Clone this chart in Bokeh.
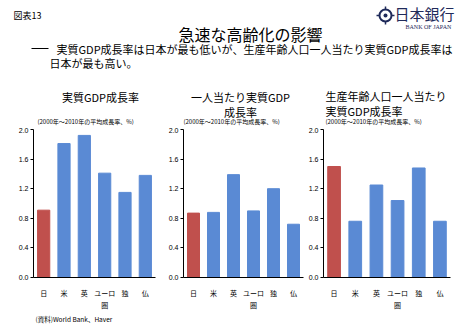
from bokeh.plotting import figure
from bokeh.models import ColumnDataSource, Range1d, FactorRange, FixedTicker, NumeralTickFormatter
from bokeh.layouts import column, row
from bokeh.embed import file_html
from bokeh.resources import INLINE
from bokeh.core.properties import value

# ---- data ----
countries = ["日", "米", "英", "ユーロ\n圏", "独", "仏"]
real_gdp = [0.91, 1.81, 1.92, 1.41, 1.15, 1.38]
real_gdp_per_capita = [0.87, 0.88, 1.39, 0.90, 1.20, 0.72]
real_gdp_per_working_age = [1.50, 0.76, 1.25, 1.04, 1.48, 0.76]
bar_colors = ["#C0504D", "#5A8AD4", "#5A8AD4", "#5A8AD4", "#5A8AD4", "#5A8AD4"]
y_ticks = [0.0, 0.4, 0.8, 1.2, 1.6, 2.0]

JP = value("Noto Sans CJK JP")
SANS = "Liberation Sans"

# ---- header (titles) ----
W = 468
HH = 127
hdr = figure(width=W, height=HH, x_range=Range1d(0, W), y_range=Range1d(HH, 0),
             output_backend="svg", toolbar_location=None, min_border=0)
hdr.axis.visible = False
hdr.grid.visible = False
hdr.outline_line_color = None

def t(fig, x, y, s, size, align="left", font=JP, style="normal", color="#000000"):
    fig.text(x=[x], y=[y], text=[s], text_font=font, text_font_size=f"{size}px",
             text_align=align, text_baseline="middle", text_color=color, text_font_style=style)

t(hdr, 13, 15, "図表13", 9)
t(hdr, 250, 33, "急速な高齢化の影響", 16, align="center")
hdr.segment(x0=[31], y0=[48], x1=[48], y1=[48], line_color="#000000", line_width=1)
t(hdr, 56, 48, "実質GDP成長率は日本が最も低いが、生産年齢人口一人当たり実質GDP成長率は", 11)
t(hdr, 49, 62, "日本が最も高い。", 11)

# logo
hdr.scatter(x=[385], y=[15], size=12, fill_color=None, line_color="#1F2A5A", line_width=2)
hdr.scatter(x=[385], y=[15], size=4, fill_color="#1F2A5A", line_color=None)
hdr.segment(x0=[385, 385, 376, 391], y0=[6, 21, 15, 15], x1=[385, 385, 379, 394], y1=[9, 24, 15, 15],
            line_color="#1F2A5A", line_width=1.5)
t(hdr, 394, 13, "日本銀行", 15, font=JP, color="#1F2A5A")
t(hdr, 405, 26, "BANK OF JAPAN", 6, font=value("Liberation Serif"), color="#1F2A5A")

# panel titles
t(hdr, 100, 96, "実質GDP成長率", 11, align="center")
t(hdr, 240, 96, "一人当たり実質GDP", 11, align="center")
t(hdr, 240, 111, "成長率", 11, align="center")
t(hdr, 325, 95, "生産年齢人口一人当たり", 11)
t(hdr, 325, 110, "実質GDP成長率", 11)
note = "(2000年～2010年の平均成長率、%)"
t(hdr, 37, 121, note, 6)
t(hdr, 183, 121, note, 6)
t(hdr, 325, 121, note, 6)

# ---- panels ----
PH = 185

def panel(vals, width, left, right):
    src = ColumnDataSource(dict(x=countries, top=vals, color=bar_colors))
    p = figure(width=width, height=PH, x_range=FactorRange(*countries), y_range=Range1d(0, 2.0),
               output_backend="svg", toolbar_location=None,
               min_border_left=left, min_border_right=right, min_border_top=2, min_border_bottom=27)
    p.vbar(x="x", top="top", width=0.6, color="color", source=src)
    p.grid.visible = False
    p.outline_line_color = None
    p.yaxis.ticker = FixedTicker(ticks=y_ticks)
    p.yaxis.formatter = NumeralTickFormatter(format="0.0")
    p.yaxis.minor_tick_line_color = None
    p.yaxis.major_tick_in = 0
    p.yaxis.major_tick_out = 3
    p.yaxis.major_label_standoff = 2
    p.yaxis.major_label_text_font = SANS
    p.yaxis.major_label_text_font_size = "7px"
    p.xaxis.major_tick_line_color = None
    p.xaxis.minor_tick_line_color = None
    p.xaxis.major_label_standoff = 4
    p.xaxis.major_label_text_font = "Noto Sans CJK JP"
    p.xaxis.major_label_text_font_size = "7px"
    for ax in (p.xaxis, p.yaxis):
        ax.axis_line_color = "#000000"
        ax.axis_line_width = 1
        ax.major_label_text_color = "#000000"
    return p

f1 = panel(real_gdp, 160, 33, 5)
f2 = panel(real_gdp_per_capita, 145, 23, 2)
f3 = panel(real_gdp_per_working_age, 163, 18, 18)

# ---- footer ----
FH = 330 - HH - PH
ftr = figure(width=W, height=FH, x_range=Range1d(0, W), y_range=Range1d(FH, 0),
             output_backend="svg", toolbar_location=None, min_border=0)
ftr.axis.visible = False
ftr.grid.visible = False
ftr.outline_line_color = None
t(ftr, 35, 6, "(資料)World Bank、Haver", 6.5)

layout = column(hdr, row(f1, f2, f3), ftr)
open("out.html", "w").write(file_html(layout, INLINE))
